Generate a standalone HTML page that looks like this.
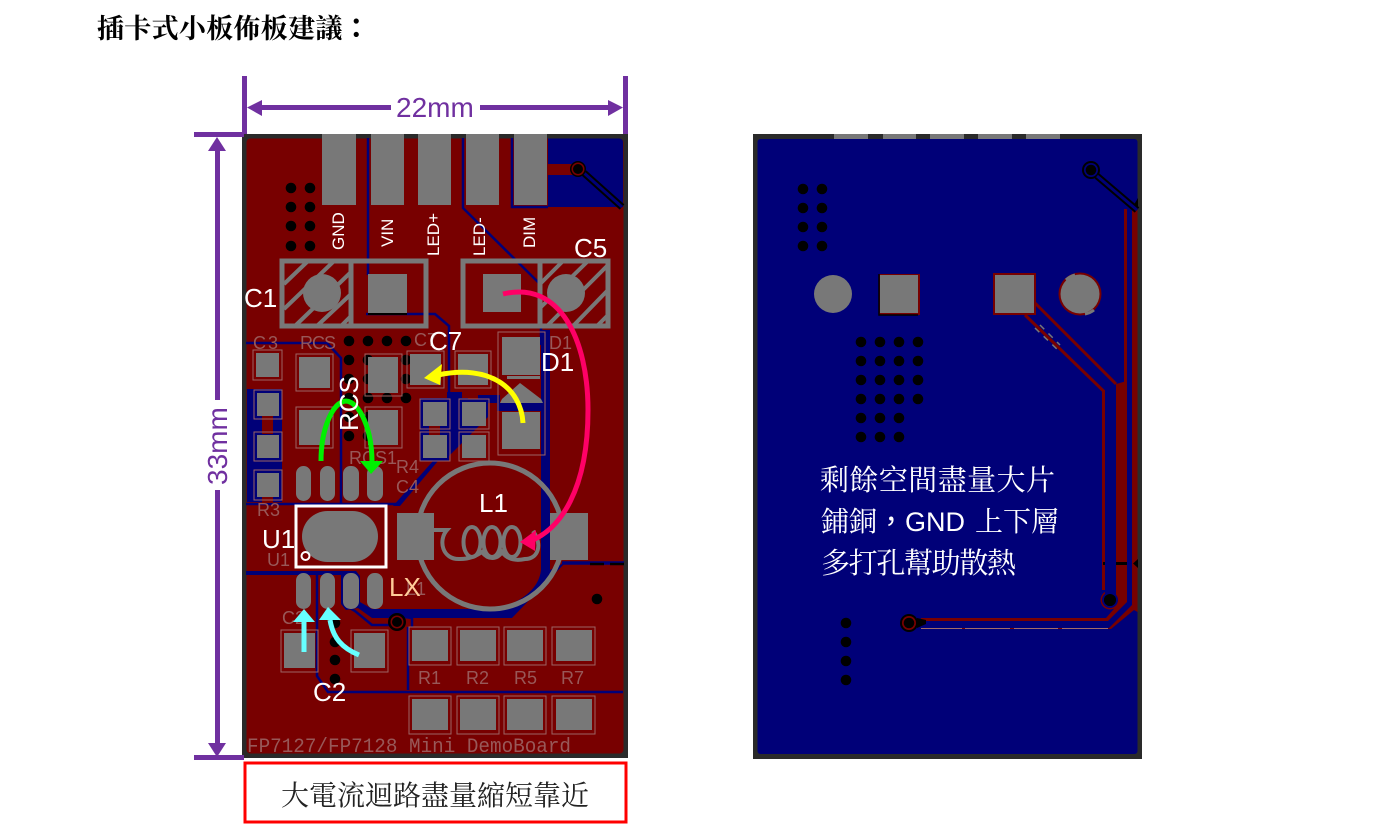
<!DOCTYPE html>
<html><head><meta charset="utf-8"><style>
html,body{margin:0;padding:0;background:#fff;width:1385px;height:824px;overflow:hidden}
svg{display:block}
text{font-family:"Liberation Sans","Noto Sans CJK SC",sans-serif}
.cj{font-family:"Liberation Serif","Noto Serif CJK SC",serif}
.tc{font-family:"Noto Sans CJK TC",sans-serif}
.w{fill:#fff;font-size:26px}
.sm{fill:#fff;font-size:17px}
.si{fill:none;stroke:#9c6464;stroke-width:1}
.st{fill:#985858;font-family:"Liberation Mono",monospace;font-size:20px}
.g{fill:#787878}
.b{fill:#000078}
.r{fill:#780000}
.tb{fill:none;stroke:#000078;stroke-width:2.5}
</style></head><body>
<svg width="1385" height="824" viewBox="0 0 1385 824" xmlns="http://www.w3.org/2000/svg">
<text class="cj" x="97" y="38" font-size="27" font-weight="700" fill="#000" letter-spacing="0.3">插卡式小板佈板建議<tspan class="tc" font-weight="700">：</tspan></text>

<!-- FRONT BOARD -->
<rect x="242" y="134" width="386" height="624" fill="#2a2a2a"/>
<rect x="246.500" y="138.500" width="377" height="615" rx="4" class="r"/>
<!-- top right blue -->
<path d="M548 138.500H619q4 0 4 4V207H548Z" class="b"/>
<rect x="548" y="164" width="30" height="11" class="r"/>
<path d="M584 173L622 207" stroke="#000" stroke-width="7" fill="none"/>
<path d="M584 173L622 207" stroke="#000078" stroke-width="3" fill="none"/>
<circle cx="578" cy="169" r="8" fill="#000"/><circle cx="578" cy="169" r="6.500" class="r"/><circle cx="578" cy="169" r="5" fill="#000"/>
<!-- top traces -->
<path d="M368 138V275" class="tb"/>
<path d="M463 138V208L541 285V345" class="tb"/>
<path d="M512 138V207H548" class="tb"/>
<path d="M366 314H435L449 326V392" class="tb"/>
<path d="M368 314H407" stroke="#000" stroke-width="2" fill="none"/>
<path d="M246 343H327L341 358V503" class="tb"/>
<path d="M246 504H397" class="tb" stroke-width="3"/>
<!-- blue fields middle -->
<path d="M447 392H462V398H488V417L449 456V461H438L400 506H393L433 461H420V398H447Z" class="b"/>
<rect x="429" y="426" width="11" height="9" class="r"/>
<rect x="468" y="395" width="10" height="4" class="r"/>
<path d="M478 395H500V403H497V411H543V403H478Z" class="b"/>
<rect x="541" y="330" width="9" height="240" class="b"/>
<rect x="247" y="389" width="35" height="113" class="b"/>
<rect x="262" y="415" width="11" height="19" class="r"/>
<rect x="262" y="497" width="11" height="6" class="r"/>
<!-- lower blue -->
<path d="M246 571H356L360 576V602L372 609H498Q538 596 541 570H550L566 562 512 618H372L358 608 346 610 341 604V575H246Z" class="b"/>
<path d="M562 563H624" stroke="#000078" stroke-width="3.500"/>
<path d="M590 564H604M610 564H624" stroke="#000" stroke-width="2.500"/>
<path d="M317 573V676L328 692H623" class="tb" stroke-width="4"/>
<path d="M343 604L355 611 372 625H392M408 627V690" class="tb"/>
<path d="M398 616L412 618V627" class="tb" stroke-width="4"/>
<circle cx="397" cy="622" r="9" fill="#000"/><circle cx="397" cy="622" r="6.500" class="r"/><circle cx="397" cy="622" r="5" fill="#000"/>

<!-- vias -->
<g fill="#000">
<circle cx="291" cy="188" r="5.300"/><circle cx="310" cy="188" r="5.300"/>
<circle cx="291" cy="207" r="5.300"/><circle cx="310" cy="207" r="5.300"/>
<circle cx="291" cy="226" r="5.300"/><circle cx="310" cy="226" r="5.300"/>
<circle cx="291" cy="246" r="5.300"/><circle cx="310" cy="246" r="5.300"/>
<circle cx="349" cy="341" r="5.300"/><circle cx="368" cy="341" r="5.300"/><circle cx="387" cy="341" r="5.300"/><circle cx="406" cy="341" r="5.300"/>
<circle cx="349" cy="360" r="5.300"/><circle cx="368" cy="360" r="5.300"/><circle cx="406" cy="360" r="5.300"/>
<circle cx="349" cy="379" r="5.300"/><circle cx="368" cy="379" r="5.300"/><circle cx="406" cy="379" r="5.300"/>
<circle cx="349" cy="398" r="5.300"/><circle cx="368" cy="398" r="5.300"/><circle cx="387" cy="398" r="5.300"/><circle cx="406" cy="398" r="5.300"/>
<circle cx="349" cy="417" r="5.300"/><circle cx="368" cy="417" r="5.300"/>
<circle cx="349" cy="436" r="5.300"/><circle cx="368" cy="436" r="5.300"/>
<circle cx="335" cy="623" r="5.300"/><circle cx="335" cy="642" r="5.300"/><circle cx="335" cy="660" r="5.300"/><circle cx="335" cy="679" r="5.300"/>
<circle cx="597" cy="599" r="5.300"/>
</g>

<!-- top pads -->
<g class="g">
<rect x="322" y="134" width="34" height="71"/><rect x="371" y="134" width="33" height="71"/><rect x="418" y="134" width="33" height="71"/><rect x="466" y="134" width="33" height="71"/><rect x="514" y="134" width="33" height="71"/>
<rect x="368" y="274" width="39" height="39"/><rect x="483" y="274" width="38" height="38"/>
<rect x="256" y="353" width="23" height="24"/><rect x="299" y="357" width="31" height="31"/><rect x="368" y="357" width="30" height="36"/><rect x="410" y="354" width="31" height="31"/><rect x="458" y="354" width="30" height="31"/>
<rect x="502" y="337" width="38" height="38"/><rect x="502" y="412" width="38" height="37"/>
<path d="M520 383L541 399 543 403H500L502 399Z"/><rect x="507" y="376" width="33" height="3"/>
<rect x="423" y="402" width="24" height="24"/><rect x="462" y="402" width="24" height="24"/><rect x="423" y="435" width="24" height="23"/><rect x="462" y="435" width="24" height="23"/>
<rect x="257" y="393" width="22" height="23"/><rect x="257" y="435" width="22" height="23"/><rect x="257" y="473" width="22" height="24"/>
<rect x="299" y="410" width="31" height="35"/><rect x="368" y="410" width="30" height="35"/>
<rect x="296" y="466" width="15" height="35" rx="7.500"/><rect x="320" y="466" width="15" height="35" rx="7.500"/><rect x="343" y="466" width="16" height="35" rx="7.500"/><rect x="367" y="466" width="16" height="35" rx="7.500"/>
<rect x="296" y="573" width="15" height="36" rx="7.500"/><rect x="320" y="573" width="15" height="36" rx="7.500"/><rect x="343" y="573" width="16" height="36" rx="7.500"/><rect x="367" y="573" width="16" height="36" rx="7.500"/>
<rect x="302" y="511" width="76" height="51" rx="25.500"/>
<rect x="284" y="633" width="31" height="35"/><rect x="354" y="633" width="31" height="35"/>
<rect x="412" y="630" width="36" height="31"/><rect x="460" y="630" width="36" height="31"/><rect x="507" y="630" width="36" height="31"/><rect x="556" y="630" width="36" height="31"/>
<rect x="412" y="699" width="36" height="31"/><rect x="460" y="699" width="36" height="31"/><rect x="507" y="699" width="36" height="31"/><rect x="556" y="699" width="36" height="31"/>
</g>

<!-- silk outlines -->
<g class="si">
<rect x="253" y="350" width="29" height="30"/><rect x="296" y="354" width="37" height="37"/><rect x="296" y="407" width="37" height="41"/><rect x="365" y="354" width="37" height="42"/><rect x="365" y="407" width="37" height="41"/>
<rect x="407" y="351" width="37" height="37"/><rect x="455" y="351" width="36" height="37"/>
<rect x="498" y="332" width="47" height="123"/>
<rect x="420" y="399" width="30" height="30"/><rect x="459" y="399" width="30" height="30"/><rect x="420" y="432" width="30" height="29"/><rect x="459" y="432" width="30" height="29"/>
<rect x="254" y="390" width="28" height="29"/><rect x="254" y="432" width="28" height="29"/><rect x="254" y="470" width="28" height="30"/>
<rect x="281" y="630" width="37" height="42"/><rect x="351" y="630" width="37" height="42"/>
<rect x="409" y="627" width="42" height="38"/><rect x="457" y="627" width="42" height="38"/><rect x="504" y="627" width="42" height="38"/><rect x="552" y="627" width="43" height="38"/>
<rect x="409" y="696" width="42" height="38"/><rect x="457" y="696" width="42" height="38"/><rect x="504" y="696" width="42" height="38"/><rect x="552" y="696" width="43" height="38"/>
</g>

<!-- C1/C5 outlines -->
<g fill="none" stroke="#787878" stroke-width="5">
<rect x="282" y="261" width="144" height="65"/><line x1="351" y1="261" x2="351" y2="326"/>
<rect x="463" y="261" width="145" height="65"/><line x1="540" y1="261" x2="540" y2="326"/>
</g>
<g fill="none" stroke="#787878" stroke-width="4">
<path d="M284 284L307 262M284 309L333 262M296 325L350 273M318 325L350 295M342 325L350 317"/>
<path d="M541 283L562 262M541 307L587 262M548 325L607 266M574 325L607 291M598 325L607 316"/>
</g>
<circle cx="322" cy="293" r="19" class="g"/><circle cx="566" cy="293" r="19" class="g"/>

<!-- inductor -->
<circle cx="490" cy="536" r="73" fill="none" stroke="#787878" stroke-width="5"/>
<rect x="397" y="513" width="37" height="47" class="g"/><rect x="550" y="513" width="38" height="47" class="g"/>
<path d="M434 530H447C438 540 442 560 460 559 470 559 476 556 482 552 488 560 497 560 502 552 508 560 516 561 525 559 538 559 543 545 533 531" fill="none" stroke="#787878" stroke-width="4"/>
<g fill="none" stroke="#787878" stroke-width="4">
<ellipse cx="472" cy="542" rx="8.500" ry="15"/><ellipse cx="492" cy="542" rx="8.500" ry="15"/><ellipse cx="512" cy="542" rx="8.500" ry="15"/>
</g>

<!-- U1 box -->
<rect x="296" y="506" width="90" height="61" fill="none" stroke="#fff" stroke-width="3"/>
<circle cx="305.500" cy="556" r="4" fill="none" stroke="#fff" stroke-width="2"/>

<!-- silk labels -->
<g fill="#985858" font-size="18" style="font-family:'Liberation Mono',monospace">
<text x="253" y="349" textLength="25">C3</text><text x="300" y="349" textLength="36">RCS</text><text x="414" y="346">C7</text><text x="549" y="349">D1</text>
<text x="349" y="464">RCS1</text><text x="396" y="473">R4</text><text x="396" y="493">C4</text><text x="257" y="516">R3</text><text x="267" y="566">U1</text>
<text x="282" y="624">C2</text><text x="406" y="595">L1</text>
<text x="418" y="684">R1</text><text x="466" y="684">R2</text><text x="514" y="684">R5</text><text x="561" y="684">R7</text>
</g>
<text class="st" x="247" y="752" textLength="324" lengthAdjust="spacingAndGlyphs">FP7127/FP7128 Mini DemoBoard</text>

<!-- rotated connector labels -->
<g class="sm">
<text transform="translate(344,250) rotate(-90)">GND</text>
<text transform="translate(393,247) rotate(-90)">VIN</text>
<text transform="translate(439,256) rotate(-90)">LED+</text>
<text transform="translate(485,256) rotate(-90)">LED-</text>
<text transform="translate(535,248) rotate(-90)">DIM</text>
</g>

<!-- curves -->
<path d="M321 461C321 430 332 402 346 401 360 402 372 430 372 462" fill="none" stroke="#00f000" stroke-width="5"/>
<path d="M360 461H383L371 474Z" fill="#00f000"/>
<path d="M523 423C521 388 490 364 438 375" fill="none" stroke="#ff0" stroke-width="5"/>
<path d="M424 378L442 364 440 385Z" fill="#ff0"/>
<path d="M503 294C560 280 588 340 588 410 588 490 560 530 530 541" fill="none" stroke="#ff0066" stroke-width="5"/>
<path d="M520 542L536 530 535 551Z" fill="#ff0066"/>
<path d="M304 652V622" stroke="#66ffff" stroke-width="5" fill="none"/>
<path d="M304 609L315 622H293Z" fill="#66ffff"/>
<path d="M359 655C342 648 333 638 330 620" stroke="#66ffff" stroke-width="5" fill="none"/>
<path d="M328 607L341 620H319Z" fill="#66ffff"/>

<!-- white labels -->
<g class="w">
<text x="244" y="307">C1</text><text x="574" y="257">C5</text><text x="429" y="350">C7</text><text x="541" y="371">D1</text>
<text transform="translate(358,431) rotate(-90)">RCS</text>
<text x="479" y="512">L1</text><text x="262" y="548">U1</text><text x="313" y="701">C2</text>
</g>
<text x="389" y="596" font-size="26" fill="#ffcc99">LX</text>

<!-- dimensions -->
<g fill="#7030a0">
<rect x="242" y="76" width="5" height="58"/><rect x="623" y="76" width="5" height="58"/>
<rect x="258" y="105" width="133" height="5"/><rect x="480" y="105" width="130" height="5"/>
<path d="M247 107.500L262 100V116Z"/><path d="M623 107.500L608 100V116Z"/>
<rect x="194" y="132" width="50" height="5"/><rect x="194" y="755" width="50" height="5"/>
<rect x="215" y="148" width="5" height="252"/><rect x="215" y="490" width="5" height="256"/>
<path d="M217 137L208 151H226Z"/><path d="M217 757L208 743H226Z"/>
</g>
<text x="396" y="117" font-size="28" fill="#7030a0">22mm</text>
<text transform="translate(227,485) rotate(-90)" font-size="28" fill="#7030a0">33mm</text>

<!-- red box -->
<rect x="245" y="763" width="381" height="59" fill="#fff" stroke="#ff0000" stroke-width="3"/>
<text class="cj" x="281" y="805" font-size="28" fill="#222" textLength="308">大電流迴路盡量縮短靠近</text>

<!-- BACK BOARD -->
<rect x="753" y="134" width="389" height="625" fill="#2a2a2a"/>
<rect x="757.500" y="139" width="380" height="615" rx="3" class="b"/>
<g class="g"><rect x="834" y="134" width="34" height="5"/><rect x="883" y="134" width="33" height="5"/><rect x="930" y="134" width="34" height="5"/><rect x="978" y="134" width="34" height="5"/><rect x="1026" y="134" width="34" height="5"/></g>
<g fill="#000">
<circle cx="803" cy="189" r="5.300"/><circle cx="822" cy="189" r="5.300"/><circle cx="803" cy="208" r="5.300"/><circle cx="822" cy="208" r="5.300"/><circle cx="803" cy="227" r="5.300"/><circle cx="822" cy="227" r="5.300"/><circle cx="803" cy="246" r="5.300"/><circle cx="822" cy="246" r="5.300"/>
<circle cx="861" cy="342" r="5.300"/><circle cx="880" cy="342" r="5.300"/><circle cx="899" cy="342" r="5.300"/><circle cx="918" cy="342" r="5.300"/>
<circle cx="861" cy="361" r="5.300"/><circle cx="880" cy="361" r="5.300"/><circle cx="899" cy="361" r="5.300"/><circle cx="918" cy="361" r="5.300"/>
<circle cx="861" cy="380" r="5.300"/><circle cx="880" cy="380" r="5.300"/><circle cx="899" cy="380" r="5.300"/><circle cx="918" cy="380" r="5.300"/>
<circle cx="861" cy="399" r="5.300"/><circle cx="880" cy="399" r="5.300"/><circle cx="899" cy="399" r="5.300"/><circle cx="918" cy="399" r="5.300"/>
<circle cx="861" cy="418" r="5.300"/><circle cx="880" cy="418" r="5.300"/><circle cx="899" cy="418" r="5.300"/>
<circle cx="861" cy="437" r="5.300"/><circle cx="880" cy="437" r="5.300"/><circle cx="899" cy="437" r="5.300"/>
<circle cx="846" cy="623" r="5.300"/><circle cx="846" cy="642" r="5.300"/><circle cx="846" cy="661" r="5.300"/><circle cx="846" cy="680" r="5.300"/>
</g>
<circle cx="833" cy="294" r="19" class="g"/>
<rect x="879" y="274" width="41" height="41" class="r"/><rect x="880" y="275" width="38" height="38" class="g"/>
<path d="M879 274V315H918" fill="none" stroke="#000" stroke-width="1.500"/>
<rect x="993" y="273" width="43" height="42" class="r"/><rect x="995" y="275" width="39" height="38" class="g"/>
<circle cx="1080" cy="294" r="21.500" class="r"/><circle cx="1080" cy="294" r="19.500" class="g"/>
<path d="M1066 280A20 20 0 0 1 1075 275M1094 310A20 20 0 0 1 1085 314" fill="none" stroke="#787878" stroke-width="3"/>
<!-- back traces -->
<g fill="none" stroke="#780000">
<path d="M1035 303L1116 384" stroke-width="3"/>
<path d="M1025 315L1103.500 391V590" stroke-width="3"/>
<path d="M1125.500 209V384" stroke-width="3"/>
</g>
<!-- thick trace + horizontal run -->
<path d="M1116 384L1127 381V602L1108 621H921V618H1106L1113 610 1116 606Z" class="r"/>
<!-- outer right trace -->
<path d="M1132 208H1137.500V612L1134 610 1111 629H921V628H1109L1132 605Z" class="r"/>
<path d="M1103 563.500H1127" stroke="#000" stroke-width="3"/><path d="M1133 563.500L1138 559V568Z" fill="#000"/>
<path d="M1132 208L1138 198V208Z" fill="#000"/>
<path d="M1040 325L1060 345M1035 328L1060 352" stroke="#787878" stroke-width="1.500" stroke-dasharray="6 6" fill="none"/>
<path d="M921 628.500H962M965 628.500H1010M1014 628.500H1058M1062 628.500H1108" stroke="#a06a6a" stroke-width="1" fill="none"/>
<circle cx="1110" cy="600" r="9.500" class="r"/><circle cx="1110" cy="600" r="8" class="b"/><circle cx="1110" cy="600" r="6" fill="#000"/>
<path d="M1105 392H1116V596H1105Z" class="b"/><circle cx="1110" cy="600" r="6" fill="#000"/>
<circle cx="909" cy="623" r="9" fill="#000"/><circle cx="909" cy="623" r="7" class="r"/><circle cx="909" cy="623" r="5.300" fill="#000"/>
<path d="M917 618L926 620V624L917 628Z" fill="#000"/>
<circle cx="1091" cy="170" r="9" fill="#000"/><circle cx="1091" cy="170" r="7" class="b"/><circle cx="1091" cy="170" r="5.300" fill="#000"/>
<path d="M1097 176L1137 210" fill="none" stroke="#000" stroke-width="7"/><path d="M1097 176L1137 210" fill="none" stroke="#000078" stroke-width="3"/>
<!-- back text -->
<g font-size="29" fill="#fff">
<text class="cj" x="820" y="490" textLength="235">剩餘空間盡量大片</text>
<text class="cj" x="821" y="531" font-size="28">鋪銅</text>
<text class="tc" x="877" y="531" font-size="28">，</text>
<text x="905" y="531" font-size="27">GND</text>
<text class="cj" x="975" y="531" font-size="28">上下層</text>
<text class="cj" x="821" y="573" textLength="195">多打孔幫助散熱</text>
</g>
</svg>
</body></html>
